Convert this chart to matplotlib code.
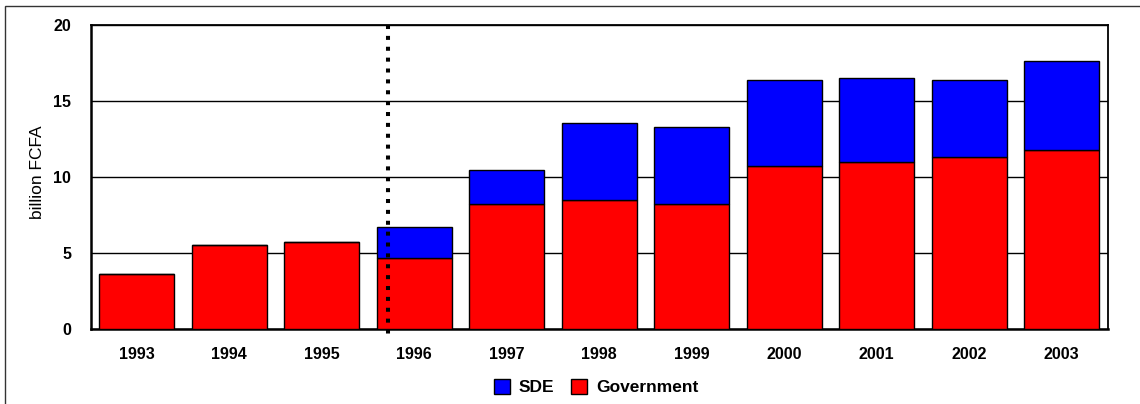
import matplotlib.pyplot as plt
from matplotlib.patches import Rectangle

plt.rcParams['font.family'] = ['Liberation Sans', 'DejaVu Sans']

years = ['1993', '1994', '1995', '1996', '1997', '1998', '1999',
         '2000', '2001', '2002', '2003']
government = [3.6, 5.5, 5.7, 4.7, 8.2, 8.5, 8.2, 10.7, 11.0, 11.3, 11.8]
sde = [0.0, 0.0, 0.0, 2.0, 2.25, 5.05, 5.1, 5.65, 5.5, 5.05, 5.8]

BAR_WIDTH = 0.81
DIVIDER_X = 2.715  # break between 1995 and 1996 series

fig = plt.figure(figsize=(11.4, 4.04), dpi=100)
ax = fig.add_axes([0.0794, 0.1856, 0.8925, 0.7525])

x = range(len(years))
ax.bar(x, government, BAR_WIDTH, color='#ff0000', edgecolor='black',
       linewidth=1.0, label='Government', zorder=3)
ax.bar(x, sde, BAR_WIDTH, bottom=government, color='#0000ff',
       edgecolor='black', linewidth=1.0, label='SDE', zorder=3)

ax.set_xlim(-0.5, len(years) - 0.5)
ax.set_ylim(0, 20)
ax.set_yticks([0, 5, 10, 15, 20])
ax.set_xticks(list(x))
ax.set_xticklabels(years)
ax.tick_params(axis='both', length=0, labelsize=11.5)
ax.tick_params(axis='x', pad=13)
ax.tick_params(axis='y', pad=14)
for lbl in ax.get_xticklabels() + ax.get_yticklabels():
    lbl.set_fontweight('bold')
ax.yaxis.grid(True, color='black', linewidth=1.0, zorder=1)
ax.set_axisbelow(True)
ax.set_ylabel('billion FCFA', fontsize=12.5)
ax.yaxis.set_label_coords(-0.0447, 0.515)

for side in ['top', 'right']:
    ax.spines[side].set_linewidth(1.3)
for side in ['left', 'bottom']:
    ax.spines[side].set_linewidth(1.8)

# dotted divider running past the bottom axis
ax.plot([DIVIDER_X, DIVIDER_X], [20, -0.45], color='black', linewidth=2.9,
        linestyle=(0, (1, 1.7)), dash_capstyle='butt', clip_on=False,
        zorder=5)

handles, labels = ax.get_legend_handles_labels()
leg = ax.legend(handles[::-1], labels[::-1], loc='upper center',
                bbox_to_anchor=(0.497, -0.112), ncol=2, frameon=False,
                prop={'weight': 'bold', 'size': 12.5}, handlelength=0.95,
                handleheight=1.0, handletextpad=0.5, columnspacing=0.95)

# outer frame around the whole chart
fig.patches.append(Rectangle((5 / 1140, -0.1), 1.2, 1.1 - 6 / 404,
                             transform=fig.transFigure, fill=False,
                             edgecolor='#333333', linewidth=1.0))

fig.savefig('out.png', dpi=100)
